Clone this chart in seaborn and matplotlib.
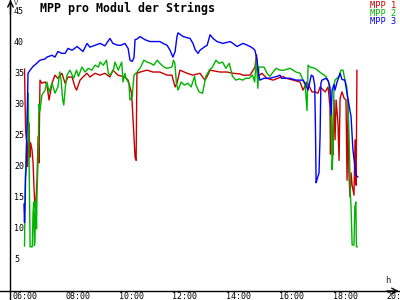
import matplotlib
matplotlib.use("Agg")
import matplotlib.pyplot as plt
from matplotlib.transforms import offset_copy
import seaborn as sns
import pandas as pd

# ---- data (time in decimal hours, MPP voltage in V) ----
t_mpp1 = [6.33, 6.35, 6.37, 6.39, 6.42, 6.44, 6.46, 6.50, 6.53, 6.56, 6.61, 6.65, 6.69, 6.72,
          6.76, 6.80, 6.84, 6.87, 6.91, 6.98, 7.10, 7.17, 7.25, 7.36, 7.47, 7.58, 7.73, 7.85,
          7.96, 8.11, 8.22, 8.28, 8.41, 8.52, 8.67, 8.78, 8.97, 9.16, 9.34, 9.53, 9.64, 9.83,
          10.09, 10.21, 10.34, 10.39, 10.47, 10.51, 10.54, 10.66, 10.92, 11.14, 11.40, 11.67,
          11.85, 11.97, 12.04, 12.15, 12.42, 12.64, 12.90, 13.09, 13.17, 13.28, 13.65, 13.91,
          14.14, 14.40, 14.51, 14.78, 14.96, 15.02, 15.08, 15.22, 15.41, 15.64, 15.82, 16.01,
          16.12, 16.39, 16.65, 16.76, 16.91, 17.10, 17.21, 17.32, 17.40, 17.59, 17.70, 17.77,
          17.79, 17.82, 17.85, 17.88, 17.92, 17.96, 18.00, 18.07, 18.11, 18.15, 18.22, 18.30,
          18.37, 18.41, 18.45, 18.48, 18.52, 18.56, 18.60, 18.67, 18.71, 18.75, 18.78]
v_mpp1 = [35.7, 30.7, 25.9, 24.8, 23.8, 20.0, 21.0, 27.0, 21.5, 23.8, 22.7, 20.6, 16.2, 13.5,
          14.6, 18.0, 24.8, 20.6, 33.9, 33.4, 33.6, 33.1, 30.7, 33.4, 34.7, 34.2, 35.0, 33.4,
          34.4, 34.4, 32.8, 32.3, 33.9, 34.4, 35.0, 34.4, 35.0, 34.7, 35.0, 34.4, 35.5, 34.7,
          34.4, 33.9, 31.8, 28.0, 21.5, 21.0, 35.0, 35.2, 35.5, 35.2, 35.2, 34.7,
          34.7, 32.8, 33.4, 35.5, 35.0, 34.7, 35.0, 33.9, 34.5, 35.5, 35.2, 35.2,
          35.0, 34.9, 34.7, 34.7, 36.0, 38.0, 34.5, 35.0, 34.2, 33.9, 34.2, 34.5,
          34.2, 33.9, 33.6, 32.3, 33.6, 32.0, 32.0, 31.8, 32.8, 32.0, 32.8, 29.6,
          22.0, 30.7, 24.0, 21.9, 30.7, 24.3, 30.7, 27.0, 21.0, 31.0, 32.0, 31.0,
          30.7, 17.8, 30.7, 19.0, 15.1, 19.0, 17.0, 15.4, 24.3, 17.0, 35.5]

t_mpp2 = [6.33, 6.34, 6.36, 6.38, 6.42, 6.46, 6.48, 6.52, 6.54, 6.62, 6.65, 6.68, 6.70, 6.72,
          6.75, 6.78, 6.80, 6.84, 6.87, 6.91, 6.98, 7.10, 7.17, 7.25, 7.36, 7.47, 7.58, 7.65,
          7.70, 7.76, 7.80, 7.86, 7.92, 8.03, 8.17, 8.28, 8.35, 8.48, 8.60, 8.72, 8.85, 8.97,
          9.10, 9.16, 9.28, 9.40, 9.47, 9.53, 9.66, 9.72, 9.84, 9.97, 10.02, 10.09, 10.13,
          10.24, 10.28, 10.36, 10.43, 10.55, 10.68, 10.80, 10.92, 11.05, 11.17, 11.30, 11.40,
          11.55, 11.67, 11.85, 11.91, 11.96, 12.02, 12.08, 12.20, 12.32, 12.45, 12.57, 12.70,
          12.75, 12.87, 13.00, 13.12, 13.25, 13.37, 13.50, 13.62, 13.75, 13.87, 14.00, 14.12,
          14.25, 14.37, 14.50, 14.62, 14.75, 14.87, 14.95, 15.01, 15.07, 15.11, 15.17, 15.30,
          15.41, 15.52, 15.64, 15.75, 15.90, 16.05, 16.27, 16.50, 16.65, 16.76, 16.84, 16.91,
          16.95, 17.02, 17.21, 17.45, 17.62, 17.72, 17.81, 17.85, 17.88, 17.92, 17.96, 18.03,
          18.11, 18.18, 18.26, 18.33, 18.40, 18.45, 18.50, 18.53, 18.56, 18.60, 18.67, 18.70,
          18.74, 18.76, 18.80]
v_mpp2 = [7.2, 11.0, 18.3, 20.0, 26.0, 31.8, 28.6, 14.6, 7.1, 7.1, 12.7, 14.3, 7.3, 8.0,
          14.6, 10.0, 15.8, 21.4, 30.0, 29.0, 31.5, 32.3, 33.6, 32.0, 33.4, 31.8, 32.8, 35.2,
          33.9, 30.7, 29.9, 32.8, 34.7, 35.5, 34.2, 35.5, 34.5, 36.0, 35.2, 35.8, 35.5, 36.3,
          36.0, 36.8, 36.3, 37.1, 35.0, 34.7, 35.5, 36.8, 35.5, 36.8, 33.6, 35.0, 34.2,
          33.4, 30.7, 31.2, 34.7, 35.2, 36.0, 37.1, 36.8, 36.6, 36.3, 37.1, 36.6,
          36.0, 35.8, 36.0, 37.1, 36.6, 33.4, 32.3, 33.6, 33.1, 33.4, 32.8, 34.5,
          33.1, 32.0, 31.8, 34.5, 35.5, 36.0, 37.1, 36.6, 36.8, 35.8, 36.6, 34.5,
          33.9, 34.1, 33.9, 34.2, 34.2, 34.7, 33.6, 37.4, 32.6, 36.0, 36.0, 36.0,
          35.0, 34.5, 35.2, 35.8, 35.5, 35.5, 35.8, 35.2, 35.0, 33.9, 33.1, 29.0,
          36.3, 36.0, 35.8, 35.0, 34.5, 33.6, 30.4, 19.5, 22.0, 33.0, 33.9, 34.2,
          34.5, 35.5, 35.5, 33.9, 32.8, 29.6, 22.0, 16.0, 13.5, 7.4, 7.4, 13.5,
          14.3, 7.1, 7.1]

t_mpp3 = [6.31, 6.33, 6.35, 6.37, 6.39, 6.40, 6.42, 6.44, 6.46, 6.54, 6.65, 6.76, 6.91, 7.10,
          7.17, 7.36, 7.47, 7.58, 7.73, 7.85, 7.96, 8.11, 8.30, 8.41, 8.52, 8.67, 8.78, 8.97,
          9.16, 9.34, 9.53, 9.64, 9.83, 9.94, 10.09, 10.21, 10.28, 10.36, 10.43, 10.47, 10.54,
          10.66, 10.84, 11.03, 11.29, 11.40, 11.52, 11.67, 11.78, 11.89, 11.97, 12.04, 12.08,
          12.27, 12.53, 12.64, 12.72, 12.83, 12.90, 13.09, 13.17, 13.28, 13.39, 13.54, 13.76,
          14.03, 14.14, 14.29, 14.51, 14.63, 14.78, 14.89, 14.96, 15.04, 15.08, 15.11, 15.15,
          15.30, 15.52, 15.79, 15.90, 15.95, 16.27, 16.50, 16.76, 16.84, 16.95, 17.07, 17.14,
          17.20, 17.23, 17.25, 17.29, 17.36, 17.40, 17.43, 17.47, 17.62, 17.70, 17.77, 17.81,
          17.85, 17.92, 17.96, 18.03, 18.11, 18.15, 18.22, 18.33, 18.41, 18.48, 18.56, 18.63,
          18.71, 18.75, 18.82]
v_mpp3 = [14.0, 11.0, 14.0, 18.0, 20.0, 22.0, 25.5, 30.0, 35.0, 35.5, 36.1, 36.5, 37.1, 37.3,
          37.6, 37.9, 37.6, 38.5, 38.2, 38.2, 39.0, 38.7, 39.3, 38.9, 38.5, 39.8, 39.2, 39.5,
          39.8, 39.4, 40.6, 39.8, 39.5, 39.5, 39.8, 39.0, 37.1, 36.9, 37.5, 40.4, 40.5,
          40.9, 40.4, 40.1, 40.1, 40.1, 39.8, 39.5, 38.7, 37.6, 38.5, 40.9, 41.5,
          40.9, 40.6, 39.8, 38.8, 38.2, 38.7, 39.3, 39.5, 41.2, 40.6, 40.1, 39.8,
          40.1, 39.8, 39.3, 39.8, 39.6, 39.3, 39.0, 38.7, 37.1, 35.5, 34.5, 33.9,
          34.2, 34.2, 34.5, 34.7, 34.2, 34.2, 33.9, 33.9, 33.4, 32.3, 34.7, 34.5,
          33.0, 25.0, 17.4, 18.0, 19.0, 25.0, 33.4, 33.9, 34.2, 33.8, 32.8, 28.3,
          32.3, 33.2, 32.3, 33.5, 34.5, 35.0, 34.0, 33.9, 31.8, 30.0, 28.0, 22.7,
          19.8, 18.6, 18.3]

series_names = ["MPP 1", "MPP 2", "MPP 3"]
series_colors = ["#c80000", "#00b400", "#0000ff"]
y_ticks = [5, 10, 15, 20, 25, 30, 35, 40, 45]
x_ticks = [6, 8, 10, 12, 14, 16, 18, 20]
x_tick_labels = ["06:00", "08:00", "10:00", "12:00", "14:00", "16:00", "18:00", "20:00"]
title = "MPP pro Modul der Strings"

df = pd.concat([
    pd.DataFrame({"t": t_mpp1, "v": v_mpp1, "s": series_names[0]}),
    pd.DataFrame({"t": t_mpp2, "v": v_mpp2, "s": series_names[1]}),
    pd.DataFrame({"t": t_mpp3, "v": v_mpp3, "s": series_names[2]}),
], ignore_index=True)

sns.set_style("white")
mono = "DejaVu Sans Mono"
plt.rcParams["font.family"] = [mono, "DejaVu Sans"]

fig = plt.figure(figsize=(4, 3), dpi=100)
ax = fig.add_axes([0, 0, 1, 1])
ax.set_facecolor("white")

sns.lineplot(data=df, x="t", y="v", hue="s", hue_order=series_names,
             palette=series_colors, estimator=None, sort=True, lw=1.0,
             legend=False, ax=ax)

x_axis_pos = 5.805
ax.set_xlim(5.412, 20.393)
ax.set_ylim(-1.447, 46.78)
ax.set_xlabel("")
ax.set_ylabel("")

for side in ("top", "right"):
    ax.spines[side].set_visible(False)
ax.spines["left"].set_position(("data", x_axis_pos))
ax.spines["bottom"].set_position(("data", 0))
for side in ("left", "bottom"):
    ax.spines[side].set_color("black")
    ax.spines[side].set_linewidth(1.0)

ax.set_yticks(y_ticks)
ax.set_xticks(x_ticks)
ax.set_yticklabels([])
ax.set_xticklabels([])
ax.tick_params(axis="both", direction="inout", length=4.5, width=1.0, color="black")

# axis arrows
ax.annotate("", xy=(x_axis_pos, 46.78), xytext=(x_axis_pos, 44.5),
            arrowprops=dict(arrowstyle="->", lw=1.0, color="black", shrinkA=0, shrinkB=0))
ax.annotate("", xy=(20.35, 0), xytext=(19.9, 0),
            arrowprops=dict(arrowstyle="->", lw=1.0, color="black", shrinkA=0, shrinkB=0))

# tick labels
ylab_tr = offset_copy(ax.transData, fig=fig, x=3.5, y=0, units="dots")
for v in y_ticks:
    ax.text(x_axis_pos, v, str(v), transform=ylab_tr, ha="left", va="center",
            fontsize=6, family=mono, color="black")
xlab_tr = offset_copy(ax.transData, fig=fig, x=-3.5, y=-1.5, units="dots")
for h, lab in zip(x_ticks, x_tick_labels):
    ax.text(h, 0, lab, transform=xlab_tr, ha="left", va="top",
            fontsize=6, family=mono, color="black")

# unit labels
fig.text(14 / 400, 1 - 0 / 300, "V", ha="left", va="top", fontsize=5, family=mono)
fig.text(385 / 400, 1 - 276 / 300, "h", ha="left", va="top", fontsize=6.5, family=mono)

# title
fig.text(40 / 400, 1 - 2 / 300, title, ha="left", va="top", fontsize=8.4,
         fontweight="bold", family=mono, color="black")

# legend as coloured text at the top right
for i, (name, col) in enumerate(zip(series_names, series_colors)):
    fig.text(396 / 400, 1 - (1.5 + 7.7 * i) / 300, name, ha="right", va="top",
             fontsize=6.2, family=mono, color=col)

fig.savefig("out.png", dpi=100, facecolor="white")
